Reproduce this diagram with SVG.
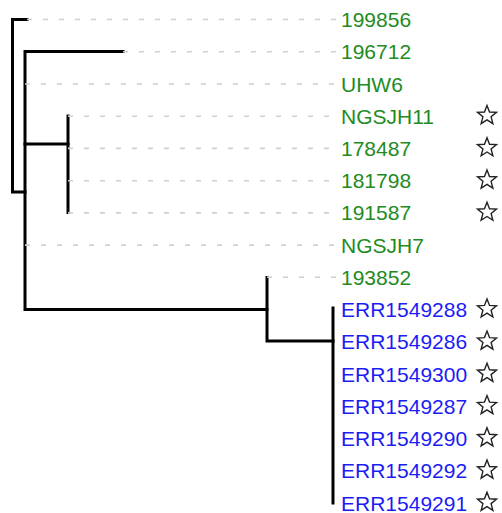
<svg xmlns="http://www.w3.org/2000/svg" xmlns:xlink="http://www.w3.org/1999/xlink" width="502" height="513" viewBox="0 0 502 513">
<style>
.lbl{font-family:"Liberation Sans",Arial,sans-serif;font-size:21px}
.g{fill:#228b22}
.b{fill:#1c1cf5}
.dash{stroke:#d0d0d0;stroke-width:1.6;stroke-dasharray:5 11;fill:none}
.edge{stroke:#000;stroke-width:3;fill:none;stroke-linecap:square}
.star{fill:none;stroke:#222;stroke-width:1.4;stroke-linejoin:miter}
</style>
<defs>
<polygon id="star" class="star" points="0,-10 2.53,-3.48 9.51,-3.09 4.09,1.33 5.88,8.09 0,4.3 -5.88,8.09 -4.09,1.33 -9.51,-3.09 -2.53,-3.48"/>
</defs>
<rect width="502" height="513" fill="#fff"/>
<g id="connectors">
<path class="edge" d="M27,19.5 H12.5 V192 H25"/>
<path class="edge" d="M123,51.5 H25 V309.5 H267"/>
<path class="edge" d="M25,144 H68"/>
<path class="edge" d="M68,116 V212.5"/>
<path class="edge" d="M267,277.5 V341 H333"/>
<path class="edge" d="M333,308 V503"/>
</g>
<g id="leaf-199856"><line class="dash" x1="27" y1="19.5" x2="340" y2="19.5"/><text class="lbl g" x="341" y="27">199856</text></g>
<g id="leaf-196712"><line class="dash" x1="123" y1="51.7" x2="340" y2="51.7"/><text class="lbl g" x="341" y="59.2">196712</text></g>
<g id="leaf-UHW6"><line class="dash" x1="25" y1="84" x2="340" y2="84"/><text class="lbl g" x="341" y="91.5">UHW6</text></g>
<g id="leaf-NGSJH11"><line class="dash" x1="68" y1="116.2" x2="340" y2="116.2"/><text class="lbl g" x="341" y="123.7">NGSJH11</text><use xlink:href="#star" x="487" y="115.5"/></g>
<g id="leaf-178487"><line class="dash" x1="68" y1="148.4" x2="340" y2="148.4"/><text class="lbl g" x="341" y="155.9">178487</text><use xlink:href="#star" x="487" y="147.7"/></g>
<g id="leaf-181798"><line class="dash" x1="68" y1="180.7" x2="340" y2="180.7"/><text class="lbl g" x="341" y="188.2">181798</text><use xlink:href="#star" x="487" y="180"/></g>
<g id="leaf-191587"><line class="dash" x1="68" y1="212.9" x2="340" y2="212.9"/><text class="lbl g" x="341" y="220.4">191587</text><use xlink:href="#star" x="487" y="212.2"/></g>
<g id="leaf-NGSJH7"><line class="dash" x1="25" y1="245.1" x2="340" y2="245.1"/><text class="lbl g" x="341" y="252.6">NGSJH7</text></g>
<g id="leaf-193852"><line class="dash" x1="267" y1="277.3" x2="340" y2="277.3"/><text class="lbl g" x="341" y="284.8">193852</text></g>
<g id="leaf-ERR1549288"><text class="lbl b" x="341" y="317.1">ERR1549288</text><use xlink:href="#star" x="487" y="308.9"/></g>
<g id="leaf-ERR1549286"><text class="lbl b" x="341" y="349.3">ERR1549286</text><use xlink:href="#star" x="487" y="341.1"/></g>
<g id="leaf-ERR1549300"><text class="lbl b" x="341" y="381.5">ERR1549300</text><use xlink:href="#star" x="487" y="373.3"/></g>
<g id="leaf-ERR1549287"><text class="lbl b" x="341" y="413.8">ERR1549287</text><use xlink:href="#star" x="487" y="405.6"/></g>
<g id="leaf-ERR1549290"><text class="lbl b" x="341" y="446">ERR1549290</text><use xlink:href="#star" x="487" y="437.8"/></g>
<g id="leaf-ERR1549292"><text class="lbl b" x="341" y="478.2">ERR1549292</text><use xlink:href="#star" x="487" y="470"/></g>
<g id="leaf-ERR1549291"><text class="lbl b" x="341" y="510.5">ERR1549291</text><use xlink:href="#star" x="487" y="502.3"/></g>
</svg>
